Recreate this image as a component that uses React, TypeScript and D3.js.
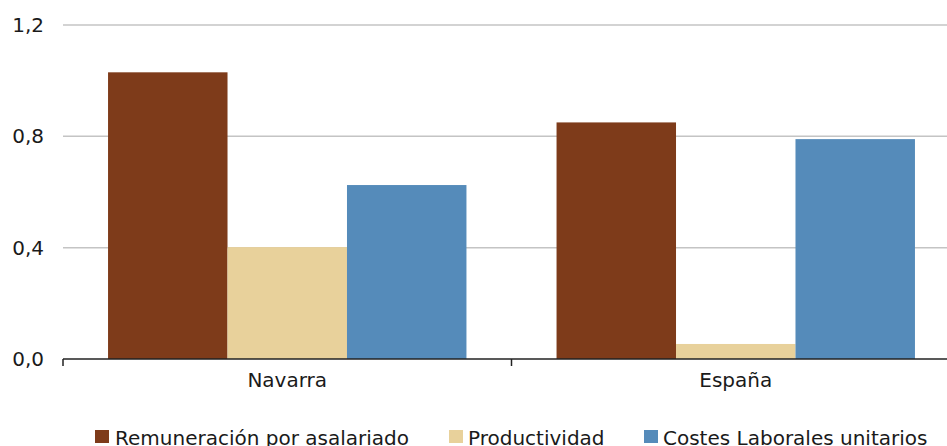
import React from "react";
import * as d3 from "d3";

const categories = ["Navarra", "España"];
const seriesNames = ["Remuneración por asalariado", "Productividad", "Costes Laborales unitarios"];
const remuneracion = [1.03, 0.85];
const productividad = [0.402, 0.054];
const costes = [0.625, 0.79];
const seriesColors = ["#7E3B1A", "#E8D19B", "#558BBA"];
const yTicks = [0, 0.4, 0.8, 1.2];

const W = 947;
const H = 446;
const PLOT_LEFT = 63;
const PLOT_RIGHT = 960;
const PLOT_TOP = 25;
const PLOT_BOTTOM = 359;
const FONT = "'DejaVu Sans', Verdana, sans-serif";

export default function App() {
  const series = [remuneracion, productividad, costes];
  const x = d3.scaleBand<string>().domain(categories).range([PLOT_LEFT, PLOT_RIGHT]).paddingInner(0).paddingOuter(0);
  const y = d3.scaleLinear().domain([0, 1.2]).range([PLOT_BOTTOM, PLOT_TOP]);
  const inner = d3.scaleBand<number>().domain([0, 1, 2]).range([0, x.bandwidth()]).paddingInner(0).paddingOuter(0.377);
  const fmt = (v: number) => d3.format(".1f")(v).replace(".", ",");
  const y0 = y(0);
  const legendItems = [
    { sq: 95, tx: 115 },
    { sq: 449, tx: 468 },
    { sq: 644, tx: 663 },
  ];
  const boundaries = [PLOT_LEFT, ...categories.map((c) => (x(c) as number) + x.bandwidth())];
  return (
    <svg width={W} height={H} style={{ position: "absolute", left: 0, top: 0, background: "#fff" }} fontFamily={FONT}>
      {yTicks.map((t) => (
        <g key={t}>
          {t > 0 && <line x1={PLOT_LEFT} x2={W} y1={y(t)} y2={y(t)} stroke="#C4C4C4" strokeWidth={1.5} />}
          <text x={44} y={y(t) + 7} textAnchor="end" fontSize={20} fill="#1a1a1a">{fmt(t)}</text>
        </g>
      ))}
      {categories.map((c, ci) => (
        <g key={c}>
          {series.map((s, si) => (
            <rect
              key={si}
              x={(x(c) as number) + (inner(si) as number)}
              y={y(s[ci])}
              width={inner.bandwidth()}
              height={y0 - y(s[ci])}
              fill={seriesColors[si]}
            />
          ))}
          <text x={(x(c) as number) + x.bandwidth() / 2} y={387} textAnchor="middle" fontSize={20} fill="#1a1a1a">{c}</text>
        </g>
      ))}
      <line x1={PLOT_LEFT} x2={W} y1={y0} y2={y0} stroke="#222" strokeWidth={1.5} />
      {boundaries.map((b, i) => (
        <line key={i} x1={b} x2={b} y1={y0} y2={y0 + 7} stroke="#222" strokeWidth={1.5} />
      ))}
      {seriesNames.map((n, i) => (
        <g key={n}>
          <rect x={legendItems[i].sq} y={430} width={14} height={13} fill={seriesColors[i]} />
          <text x={legendItems[i].tx} y={445} fontSize={20} fill="#1a1a1a">{n}</text>
        </g>
      ))}
    </svg>
  );
}
